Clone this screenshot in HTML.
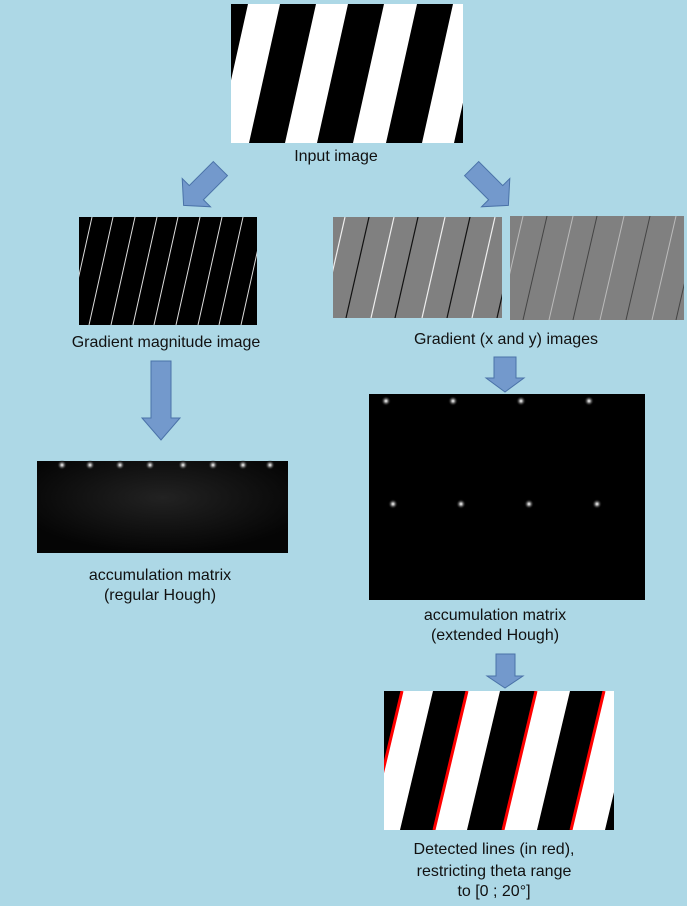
<!DOCTYPE html>
<html><head><meta charset="utf-8"><style>
html,body{margin:0;padding:0;background:#add8e6;}
svg{display:block}
text{font-family:"Liberation Sans",sans-serif;font-size:16px;fill:#111;text-anchor:middle}
</style></head><body>
<svg width="687" height="906" viewBox="0 0 687 906" xmlns="http://www.w3.org/2000/svg">
<defs>
<clipPath id="c1"><rect x="231" y="4" width="232" height="139"/></clipPath>
<clipPath id="c2"><rect x="384" y="691" width="230" height="139"/></clipPath>
<clipPath id="c3"><rect x="79" y="217" width="178" height="108"/></clipPath>
<clipPath id="c4"><rect x="333" y="217" width="169" height="101"/></clipPath>
<clipPath id="c5"><rect x="510" y="216" width="174" height="104"/></clipPath>
<radialGradient id="star"><stop offset="0" stop-color="#fff"/><stop offset="0.3" stop-color="#999"/><stop offset="1" stop-color="#000" stop-opacity="0"/></radialGradient>
<radialGradient id="haze" cx="0.5" cy="0.4" r="0.6"><stop offset="0" stop-color="#222"/><stop offset="1" stop-color="#050505"/></radialGradient>
</defs>
<rect width="687" height="906" fill="#add8e6"/>

<rect x="231" y="4" width="232" height="139" fill="#000"/>
<g clip-path="url(#c1)" fill="#fff">
<polygon points="248,4 280,4 249,143 217,143"/>
<polygon points="316,4 348,4 317,143 285,143"/>
<polygon points="384,4 417,4 386,143 353,143"/>
<polygon points="453,4 485,4 454,143 422,143"/>
</g>
<text x="336" y="161">Input image</text>

<g fill="#7399cc" stroke="#4a72a8" stroke-width="1">
<polygon transform="translate(202,187) rotate(45)" points="-10,-26 10,-26 10,8 20,8 0,26 -20,8 -10,8"/>
<polygon transform="translate(490,187) rotate(-45)" points="-10,-26 10,-26 10,8 20,8 0,26 -20,8 -10,8"/>
<polygon points="151,361 171,361 171,418 180,418 161,440 142,418 151,418"/>
<polygon points="494,357 516,357 516,378 524,378 505,392 486,378 494,378"/>
<polygon points="496,654 515,654 515,676 523,676 505,688 487,676 496,676"/>
</g>

<rect x="79" y="217" width="178" height="108" fill="#000"/>
<g clip-path="url(#c3)" stroke="#ddd" stroke-width="1">
<line x1="92" y1="217" x2="68" y2="325"/><line x1="113" y1="217" x2="89" y2="325"/>
<line x1="135" y1="217" x2="111" y2="325"/><line x1="157" y1="217" x2="133" y2="325"/>
<line x1="178" y1="217" x2="154" y2="325"/><line x1="200" y1="217" x2="176" y2="325"/>
<line x1="222" y1="217" x2="198" y2="325"/><line x1="243" y1="217" x2="219" y2="325"/>
<line x1="265" y1="217" x2="241" y2="325"/>
</g>
<text x="166" y="347">Gradient magnitude image</text>

<rect x="333" y="217" width="169" height="101" fill="#808080"/>
<g clip-path="url(#c4)" stroke-width="1.2">
<line x1="345" y1="217" x2="322" y2="318" stroke="#eee"/>
<line x1="369" y1="217" x2="346" y2="318" stroke="#111"/>
<line x1="394" y1="217" x2="371" y2="318" stroke="#eee"/>
<line x1="418" y1="217" x2="395" y2="318" stroke="#111"/>
<line x1="445" y1="217" x2="422" y2="318" stroke="#eee"/>
<line x1="470" y1="217" x2="447" y2="318" stroke="#111"/>
<line x1="495" y1="217" x2="472" y2="318" stroke="#eee"/>
<line x1="520" y1="217" x2="497" y2="318" stroke="#111"/>
</g>
<rect x="510" y="216" width="174" height="104" fill="#808080"/>
<g clip-path="url(#c5)" stroke-width="1">
<line x1="523" y1="216" x2="499" y2="320" stroke="#bbb"/>
<line x1="547" y1="216" x2="523" y2="320" stroke="#444"/>
<line x1="573" y1="216" x2="549" y2="320" stroke="#bbb"/>
<line x1="597" y1="216" x2="573" y2="320" stroke="#444"/>
<line x1="624" y1="216" x2="600" y2="320" stroke="#bbb"/>
<line x1="650" y1="216" x2="626" y2="320" stroke="#444"/>
<line x1="676" y1="216" x2="652" y2="320" stroke="#bbb"/>
<line x1="700" y1="216" x2="676" y2="320" stroke="#444"/>
</g>
<text x="506" y="344">Gradient (x and y) images</text>

<rect x="37" y="461" width="251" height="92" fill="url(#haze)"/>
<g fill="url(#star)">
<circle cx="62" cy="465" r="5"/><circle cx="90" cy="465" r="5"/><circle cx="120" cy="465" r="5"/>
<circle cx="150" cy="465" r="5"/><circle cx="183" cy="465" r="5"/><circle cx="213" cy="465" r="5"/>
<circle cx="243" cy="465" r="5"/><circle cx="270" cy="465" r="5"/>
</g>
<text x="160" y="580">accumulation matrix</text>
<text x="160" y="600">(regular Hough)</text>

<rect x="369" y="394" width="276" height="206" fill="#000"/>
<g fill="url(#star)">
<circle cx="386" cy="401" r="5"/><circle cx="453" cy="401" r="5"/><circle cx="521" cy="401" r="5"/><circle cx="589" cy="401" r="5"/>
<circle cx="393" cy="504" r="5"/><circle cx="461" cy="504" r="5"/><circle cx="529" cy="504" r="5"/><circle cx="597" cy="504" r="5"/>
</g>
<text x="495" y="620">accumulation matrix</text>
<text x="495" y="640">(extended Hough)</text>

<rect x="384" y="691" width="230" height="139" fill="#000"/>
<g clip-path="url(#c2)">
<g fill="#fff">
<polygon points="402,691 433,691 400,830 369,830"/>
<polygon points="467,691 500,691 467,830 434,830"/>
<polygon points="536,691 570,691 537,830 503,830"/>
<polygon points="604,691 638,691 605,830 571,830"/>
</g>
<g stroke="#f00" stroke-width="3">
<line x1="402" y1="691" x2="369" y2="830"/>
<line x1="467" y1="691" x2="434" y2="830"/>
<line x1="536" y1="691" x2="503" y2="830"/>
<line x1="604" y1="691" x2="571" y2="830"/>
</g>
</g>
<text x="494" y="854">Detected lines (in red),</text>
<text x="494" y="876">restricting theta range</text>
<text x="494" y="896">to [0 ; 20°]</text>
</svg>
</body></html>
